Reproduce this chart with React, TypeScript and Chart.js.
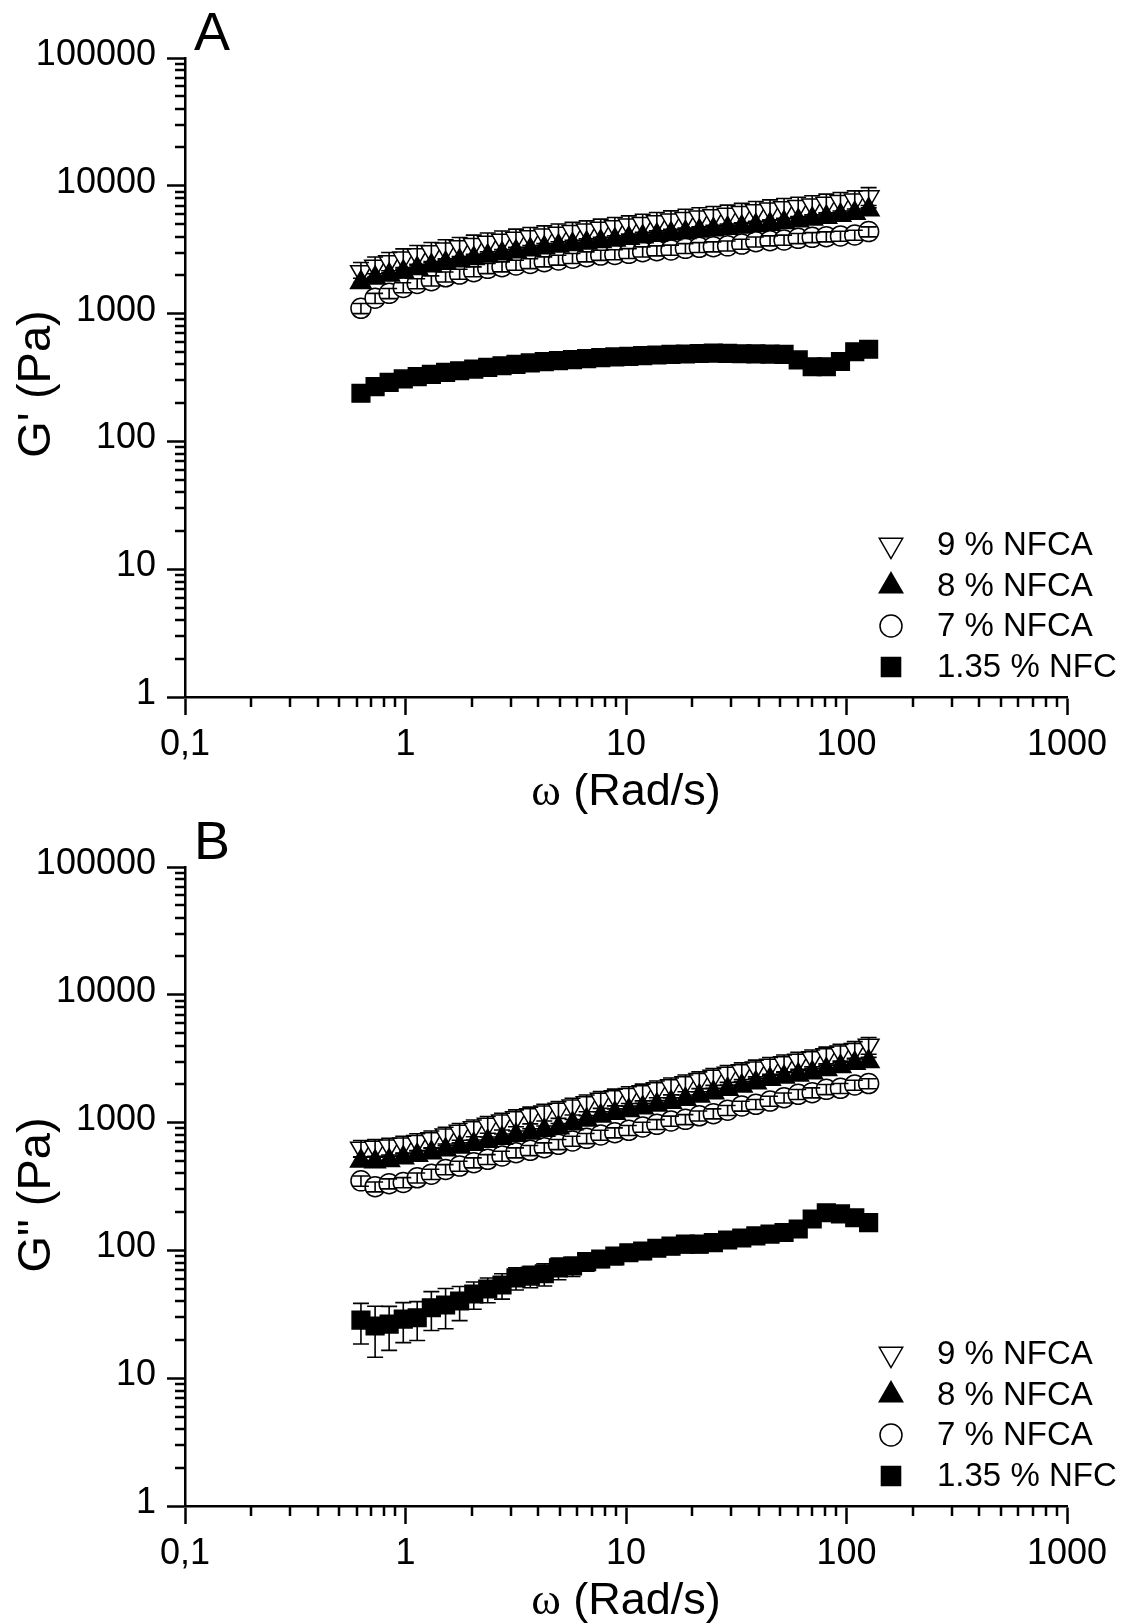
import React, { useEffect, useRef } from 'react';
import { Chart, registerables } from 'chart.js';

Chart.register(...registerables);

// ---------- data ----------
const omega = [0.628, 0.728, 0.843, 0.977, 1.13, 1.31, 1.52, 1.76, 2.04, 2.36, 2.74, 3.17, 3.68, 4.26, 4.94, 5.72, 6.63, 7.68, 8.9, 10.3, 11.9, 13.8, 16.0, 18.6, 21.5, 24.9, 28.9, 33.5, 38.8, 45.0, 52.1, 60.4, 69.9, 81.0, 93.9, 109, 126];

const xTickValues = [0.1, 1, 10, 100, 1000];
const xTickLabels = ['0,1', '1', '10', '100', '1000'];
const yTickValues = [1, 10, 100, 1000, 10000, 100000];
const yTickLabels = ['1', '10', '100', '1000', '10000', '100000'];
const seriesLabels = ['9 % NFCA', '8 % NFCA', '7 % NFCA', '1.35 % NFC'];
const xTitleSymbol = 'ω';
const xTitleText = ' (Rad/s)';
const yTitleA = "G' (Pa)";
const yTitleB = 'G" (Pa)';
const panelLetters = ['A', 'B'];

// Panel A: G'
const gp9A = [2130, 2350, 2550, 2720, 2890, 3050, 3200, 3340, 3480, 3620, 3750, 3880, 4000, 4120, 4250, 4380, 4510, 4650, 4790, 4930, 5080, 5240, 5400, 5560, 5700, 5840, 5980, 6180, 6380, 6580, 6740, 6900, 7080, 7300, 7520, 7740, 8200];
const gp9AErr = [380, 420, 460, 490, 520, 550, 580, 600, 630, 650, 680, 700, 720, 740, 770, 790, 810, 840, 860, 890, 910, 940, 970, 1000, 1030, 1050, 1080, 1110, 1150, 1180, 1210, 1240, 1270, 1310, 1350, 1390, 1480];
const gp8A = [1750, 1900, 2005, 2120, 2250, 2370, 2480, 2590, 2700, 2820, 2940, 3050, 3160, 3270, 3380, 3470, 3560, 3660, 3770, 3880, 4000, 4110, 4220, 4320, 4430, 4540, 4650, 4760, 4880, 5000, 5160, 5330, 5500, 5680, 5880, 6090, 6500];
const gp8AErr = [140, 150, 160, 170, 180, 190, 200, 210, 215, 225, 235, 245, 255, 260, 270, 280, 285, 295, 300, 310, 320, 330, 340, 345, 355, 365, 370, 380, 390, 400, 410, 425, 440, 455, 470, 490, 520];
const gp7A = [1100, 1320, 1440, 1600, 1720, 1810, 1940, 2040, 2130, 2260, 2330, 2400, 2470, 2550, 2630, 2710, 2790, 2870, 2900, 2960, 3050, 3110, 3150, 3240, 3300, 3340, 3390, 3500, 3650, 3720, 3770, 3880, 3950, 4000, 4050, 4120, 4380];
const gp7AErr = [100, 120, 130, 145, 155, 165, 175, 185, 190, 205, 210, 215, 220, 230, 235, 245, 250, 260, 260, 265, 275, 280, 285, 290, 295, 300, 305, 315, 330, 335, 340, 350, 355, 360, 365, 370, 395];
const gpNfcA = [238, 268, 290, 308, 321, 335, 347, 357, 368, 380, 391, 401, 411, 421, 429, 436, 444, 452, 458, 463, 469, 474, 480, 483, 487, 490, 488, 485, 484, 482, 480, 434, 384, 384, 422, 503, 526];
const gpNfcAErr = [12, 13, 14, 15, 16, 17, 17, 18, 18, 19, 19, 20, 20, 21, 21, 22, 22, 22, 23, 23, 23, 24, 24, 24, 24, 25, 24, 24, 24, 24, 24, 22, 19, 19, 21, 25, 26];

// Panel B: G''
const gpp9B = [630, 640, 656, 680, 712, 748, 800, 855, 912, 970, 1030, 1093, 1150, 1210, 1270, 1350, 1430, 1520, 1590, 1660, 1740, 1840, 1940, 2050, 2170, 2300, 2430, 2550, 2680, 2810, 2940, 3080, 3220, 3390, 3560, 3740, 4030];
const gpp9BErr = [95, 96, 98, 102, 107, 112, 120, 128, 137, 145, 155, 164, 172, 182, 190, 202, 214, 228, 238, 249, 261, 276, 291, 307, 325, 345, 364, 382, 402, 421, 441, 462, 483, 508, 534, 561, 605];
const gpp8B = [500, 495, 505, 530, 555, 582, 612, 643, 676, 714, 754, 795, 830, 870, 912, 980, 1050, 1127, 1185, 1245, 1309, 1375, 1445, 1521, 1615, 1715, 1820, 1930, 2050, 2180, 2270, 2360, 2460, 2600, 2750, 2910, 3000];
const gpp8BErr = [40, 40, 40, 42, 44, 47, 49, 51, 54, 57, 60, 64, 66, 70, 73, 78, 84, 90, 95, 100, 105, 110, 116, 122, 129, 137, 146, 154, 164, 174, 182, 189, 197, 208, 220, 233, 240];
const gpp7B = [350, 315, 333, 340, 370, 395, 430, 457, 486, 516, 548, 582, 607, 637, 676, 718, 753, 800, 834, 870, 924, 969, 1030, 1060, 1130, 1175, 1250, 1350, 1390, 1475, 1565, 1665, 1715, 1820, 1855, 1970, 2020];
const gpp7BErr = [32, 28, 30, 31, 33, 36, 39, 41, 44, 46, 49, 52, 55, 57, 61, 65, 68, 72, 75, 78, 83, 87, 93, 95, 102, 106, 112, 121, 125, 133, 141, 150, 154, 164, 167, 177, 182];
const gppNfcB = [28.5, 25.6, 26.5, 29, 29.7, 35.6, 37.4, 40.2, 45.6, 49.9, 53.6, 61, 63, 65.7, 73, 75.5, 81.6, 85.7, 90.4, 95.9, 98.9, 104, 108, 112, 112, 115, 120.6, 125, 130, 134, 138, 147, 176, 197, 193, 180, 165];
const gppNfcBErr = [10, 11, 10, 10, 10, 12, 13, 12, 11, 11, 12, 12, 12, 13, 14, 13, 13, 12, 13, 13, 14, 14, 15, 16, 16, 16, 16, 16, 16, 15, 14, 14, 12, 10, 10, 10, 10];

// ---------- styling ----------
const SANS = "'Liberation Sans', Arial, sans-serif";
const SERIF = "'Liberation Serif', 'Times New Roman', serif";

type Marker = { style: 'triangle' | 'circle' | 'rect'; rotation: number; fill: string; radius: number; legendRadius: number };
const markers: Marker[] = [
  { style: 'triangle', rotation: 180, fill: '#ffffff', radius: 12, legendRadius: 13.5 },
  { style: 'triangle', rotation: 0, fill: '#000000', radius: 12, legendRadius: 13.5 },
  { style: 'circle', rotation: 0, fill: '#ffffff', radius: 10, legendRadius: 11 },
  { style: 'rect', rotation: 0, fill: '#000000', radius: 12.5, legendRadius: 13.5 },
];

const CANVAS_W = 1135;

function drawSymbol(ctx: CanvasRenderingContext2D, m: Marker, x: number, y: number, r: number) {
  ctx.beginPath();
  if (m.style === 'circle') {
    ctx.arc(x, y, r, 0, Math.PI * 2);
  } else if (m.style === 'rect') {
    const s = r * Math.SQRT1_2;
    ctx.rect(x - s, y - s, 2 * s, 2 * s);
  } else {
    let rad = (m.rotation * Math.PI) / 180;
    for (let k = 0; k < 3; k++) {
      const px = x + Math.sin(rad) * r;
      const py = y - Math.cos(rad) * r;
      if (k === 0) ctx.moveTo(px, py);
      else ctx.lineTo(px, py);
      rad += (2 * Math.PI) / 3;
    }
    ctx.closePath();
  }
  ctx.fillStyle = m.fill;
  ctx.fill();
  ctx.lineWidth = 1.5;
  ctx.strokeStyle = '#000';
  ctx.stroke();
}

const errorBarPlugin = {
  id: 'errorBars',
  afterDatasetDraw(chart: any, args: any) {
    const ds = chart.data.datasets[args.index];
    const errs: number[] | undefined = ds.errors;
    if (!errs) return;
    const ctx: CanvasRenderingContext2D = chart.ctx;
    const xs = chart.scales.x;
    const ys = chart.scales.y;
    const cap = 8;
    ctx.save();
    ctx.strokeStyle = '#000';
    ctx.lineWidth = 1.6;
    ds.data.forEach((pt: { x: number; y: number }, i: number) => {
      const e = errs[i];
      const px = xs.getPixelForValue(pt.x);
      const top = ys.getPixelForValue(pt.y + e);
      const bot = ys.getPixelForValue(Math.max(pt.y - e, 1e-6));
      ctx.beginPath();
      ctx.moveTo(px, top);
      ctx.lineTo(px, bot);
      ctx.moveTo(px - cap, top);
      ctx.lineTo(px + cap, top);
      ctx.moveTo(px - cap, bot);
      ctx.lineTo(px + cap, bot);
      ctx.stroke();
    });
    ctx.restore();
  },
};

const minorTickPlugin = {
  id: 'minorTicks',
  afterDraw(chart: any) {
    const ctx: CanvasRenderingContext2D = chart.ctx;
    const xs = chart.scales.x;
    const ys = chart.scales.y;
    const area = chart.chartArea;
    const len = 10;
    ctx.save();
    ctx.strokeStyle = '#000';
    ctx.lineWidth = 2.5;
    ctx.beginPath();
    for (let d = 0; d < xTickValues.length - 1; d++) {
      for (let m = 2; m <= 9; m++) {
        const px = Math.round(xs.getPixelForValue(xTickValues[d] * m));
        ctx.moveTo(px, area.bottom);
        ctx.lineTo(px, area.bottom + len);
      }
    }
    for (let d = 0; d < yTickValues.length - 1; d++) {
      for (let m = 2; m <= 9; m++) {
        const py = Math.round(ys.getPixelForValue(yTickValues[d] * m));
        ctx.moveTo(area.left, py);
        ctx.lineTo(area.left - len, py);
      }
    }
    ctx.stroke();
    ctx.restore();
  },
};

const decorPlugin = {
  id: 'decor',
  afterDraw(chart: any, _args: any, opts: any) {
    const ctx: CanvasRenderingContext2D = chart.ctx;
    const area = chart.chartArea;
    ctx.save();
    ctx.fillStyle = '#000';

    // panel letter
    ctx.font = `54px ${SANS}`;
    ctx.textAlign = 'left';
    ctx.textBaseline = 'alphabetic';
    ctx.fillText(opts.letter, 194, 50);

    // x title: serif omega + sans text
    const tSize = 45;
    ctx.font = `${tSize}px ${SERIF}`;
    const w1 = ctx.measureText(xTitleSymbol).width;
    ctx.font = `${tSize}px ${SANS}`;
    const w2 = ctx.measureText(xTitleText).width;
    const cx = (area.left + area.right) / 2;
    const startX = cx - (w1 + w2) / 2;
    ctx.font = `${tSize}px ${SERIF}`;
    ctx.fillText(xTitleSymbol, startX, 805);
    ctx.font = `${tSize}px ${SANS}`;
    ctx.fillText(xTitleText, startX + w1, 805);

    // y title
    ctx.save();
    ctx.translate(opts.yTitleX, opts.yTitleY);
    ctx.rotate(-Math.PI / 2);
    ctx.font = `47px ${SANS}`;
    ctx.textAlign = 'center';
    ctx.textBaseline = 'middle';
    ctx.fillText(opts.yTitle, 0, 0);
    ctx.restore();

    // legend
    const rows = [545, 586, 626, 667];
    ctx.font = `33px ${SANS}`;
    ctx.textAlign = 'left';
    ctx.textBaseline = 'middle';
    seriesLabels.forEach((lab, i) => {
      drawSymbol(ctx, markers[i], 891, rows[i], markers[i].legendRadius);
      ctx.fillStyle = '#000';
      ctx.fillText(lab, 937, rows[i] + 1);
    });
    ctx.restore();
  },
};

type PanelProps = {
  top: number;
  height: number;
  letter: string;
  yTitle: string;
  yTitleY: number;
  series: { values: number[]; errors: number[] }[];
};

function Panel({ top, height, letter, yTitle, yTitleY, series }: PanelProps) {
  const ref = useRef<HTMLCanvasElement>(null);
  useEffect(() => {
    if (!ref.current) return;
    const plotBottom = 697;
    const datasets = [1, 0, 2, 3].map((si) => {
      const m = markers[si];
      return {
        label: seriesLabels[si],
        data: omega.map((x, i) => ({ x, y: series[si].values[i] })),
        errors: series[si].errors,
        showLine: false,
        pointStyle: m.style,
        pointRotation: m.rotation,
        pointRadius: m.radius,
        pointBackgroundColor: m.fill,
        pointBorderColor: '#000',
        pointBorderWidth: 1.5,
      } as any;
    });
    const chart = new Chart(ref.current, {
      type: 'scatter',
      data: { datasets },
      options: {
        responsive: false,
        animation: false,
        devicePixelRatio: 1,
        layout: { padding: { top: 58, right: CANVAS_W - 1067, left: 0, bottom: 0 } },
        plugins: {
          legend: { display: false },
          tooltip: { enabled: false },
          decor: { letter, yTitle, yTitleX: 37, yTitleY },
        } as any,
        scales: {
          x: {
            type: 'logarithmic',
            position: 'bottom',
            min: 0.1,
            max: 1000,
            afterBuildTicks: (s: any) => {
              s.ticks = xTickValues.map((v) => ({ value: v }));
            },
            afterFit: (s: any) => {
              s.height = height - plotBottom;
            },
            ticks: {
              callback: (v: any) => {
                const i = xTickValues.indexOf(Number(v));
                return i >= 0 ? xTickLabels[i] : '';
              },
              font: { family: SANS, size: 36, lineHeight: 1 },
              color: '#000',
              padding: 12,
              maxRotation: 0,
              autoSkip: false,
            },
            grid: { display: true, drawOnChartArea: false, drawTicks: true, tickLength: 18, tickWidth: 2.5, tickColor: '#000' },
            border: { display: true, color: '#000', width: 2.5 },
          },
          y: {
            type: 'logarithmic',
            position: 'left',
            min: 1,
            max: 100000,
            afterBuildTicks: (s: any) => {
              s.ticks = yTickValues.map((v) => ({ value: v }));
            },
            afterFit: (s: any) => {
              s.width = 185;
            },
            ticks: {
              callback: (v: any) => {
                const i = yTickValues.indexOf(Number(v));
                return i >= 0 ? yTickLabels[i] : '';
              },
              font: { family: SANS, size: 36, lineHeight: 1 },
              color: '#000',
              padding: 11,
              labelOffset: -3,
              autoSkip: false,
            },
            grid: { display: true, drawOnChartArea: false, drawTicks: true, tickLength: 18, tickWidth: 2.5, tickColor: '#000' },
            border: { display: true, color: '#000', width: 2.5 },
          },
        },
      } as any,
      plugins: [errorBarPlugin, minorTickPlugin, decorPlugin],
    });
    return () => chart.destroy();
  }, []);
  return (
    <canvas
      ref={ref}
      width={CANVAS_W}
      height={height}
      style={{ position: 'absolute', left: 0, top, width: CANVAS_W, height, display: 'block' }}
    />
  );
}

export default function App() {
  const seriesA = [
    { values: gp9A, errors: gp9AErr },
    { values: gp8A, errors: gp8AErr },
    { values: gp7A, errors: gp7AErr },
    { values: gpNfcA, errors: gpNfcAErr },
  ];
  const seriesB = [
    { values: gpp9B, errors: gpp9BErr },
    { values: gpp8B, errors: gpp8BErr },
    { values: gpp7B, errors: gpp7BErr },
    { values: gppNfcB, errors: gppNfcBErr },
  ];
  return (
    <div style={{ position: 'absolute', left: 0, top: 0, width: 1135, height: 1623, background: '#fff', overflow: 'hidden' }}>
      <Panel top={0} height={820} letter={panelLetters[0]} yTitle={yTitleA} yTitleY={384} series={seriesA} />
      <Panel top={809} height={814} letter={panelLetters[1]} yTitle={yTitleB} yTitleY={386} series={seriesB} />
    </div>
  );
}
